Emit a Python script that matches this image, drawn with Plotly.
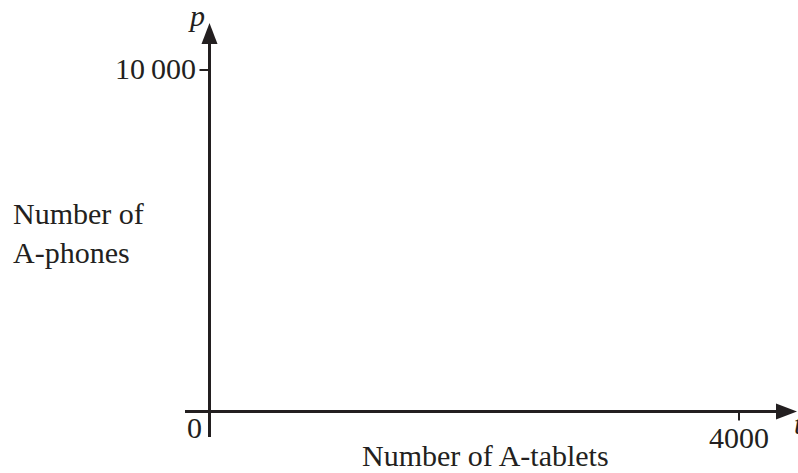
import plotly.graph_objects as go

# ---------------- data ----------------
X_TICKS = [4000]
X_TICK_LABELS = ["4000"]
Y_TICKS = [10000]
Y_TICK_LABELS = ["10\u2009000"]
ORIGIN_LABEL = "0"
X_VAR = "t"
Y_VAR = "p"
X_TITLE = "Number of A-tablets"
Y_TITLE = "Number of<br>A-phones"

# visible extent of the drawn axes (data units)
X_AXIS_START = -185
X_AXIS_TIP = 4438
Y_AXIS_START = -747
Y_AXIS_TIP = 11376

# ---------------- layout ----------------
W, H = 798, 473
X_RANGE = [-1582.6, 4445.5]
Y_RANGE = [-1801.0, 12050.0]

INK = "#231f20"
FONT = "Liberation Serif"
FS = 30
ARROW_LEN = 21
ARROW_HALF = 8
AXW = 3

fig = go.Figure()

# axis lines (stop at arrow base)
x_px_per_unit = W / (X_RANGE[1] - X_RANGE[0])
y_px_per_unit = H / (Y_RANGE[1] - Y_RANGE[0])
x_base = X_AXIS_TIP - (ARROW_LEN - 2) / x_px_per_unit
y_base = Y_AXIS_TIP - (ARROW_LEN - 2) / y_px_per_unit

fig.add_trace(go.Scatter(x=[X_AXIS_START, x_base], y=[0, 0], mode="lines",
                         line=dict(color=INK, width=AXW), cliponaxis=False,
                         hoverinfo="skip"))
fig.add_trace(go.Scatter(x=[0, 0], y=[Y_AXIS_START, y_base], mode="lines",
                         line=dict(color=INK, width=AXW), cliponaxis=False,
                         hoverinfo="skip"))

shapes = []
# arrowheads (pixel-sized, anchored at the axis tips)
shapes.append(dict(type="path", xref="x", yref="y", xsizemode="pixel", ysizemode="pixel",
                   xanchor=X_AXIS_TIP, yanchor=0,
                   path=f"M0,0 L{-ARROW_LEN},{ARROW_HALF} L{-ARROW_LEN},{-ARROW_HALF} Z",
                   fillcolor=INK, line=dict(width=0)))
shapes.append(dict(type="path", xref="x", yref="y", xsizemode="pixel", ysizemode="pixel",
                   xanchor=0, yanchor=Y_AXIS_TIP,
                   path=f"M0,0 L{-ARROW_HALF},{-ARROW_LEN} L{ARROW_HALF},{-ARROW_LEN} Z",
                   fillcolor=INK, line=dict(width=0)))
# tick marks
for xv in X_TICKS:
    shapes.append(dict(type="line", xref="x", yref="y", ysizemode="pixel", yanchor=0,
                       x0=xv, x1=xv, y0=0, y1=-9, line=dict(color=INK, width=2)))
for yv in Y_TICKS:
    shapes.append(dict(type="line", xref="x", yref="y", xsizemode="pixel", xanchor=0,
                       x0=-10, x1=0, y0=yv, y1=yv, line=dict(color=INK, width=2)))

annotations = []
for xv, lab in zip(X_TICKS, X_TICK_LABELS):
    annotations.append(dict(x=xv, y=0, xref="x", yref="y", text=lab, showarrow=False,
                            xanchor="center", yanchor="middle", yshift=-25.5))
for yv, lab in zip(Y_TICKS, Y_TICK_LABELS):
    annotations.append(dict(x=0, y=yv, xref="x", yref="y", text=lab, showarrow=False,
                            xanchor="right", yanchor="middle", xshift=-11.5, yshift=2))
annotations.append(dict(x=0, y=0, xref="x", yref="y", text=ORIGIN_LABEL, showarrow=False,
                        xanchor="right", yanchor="middle", xshift=-5.5, yshift=-15.5))
annotations.append(dict(x=0, y=Y_AXIS_TIP, xref="x", yref="y", text=f"<i>{Y_VAR}</i>",
                        showarrow=False, xanchor="center", yanchor="middle",
                        xshift=-13.5, yshift=7.5))
annotations.append(dict(x=X_AXIS_TIP, y=0, xref="x", yref="y", text=f"<i>{X_VAR}</i>",
                        showarrow=False, xanchor="left", yanchor="middle",
                        xshift=-5, yshift=-11.5))
annotations.append(dict(x=485.5 / W, y=1 - 455 / H, xref="paper", yref="paper",
                        text=X_TITLE, showarrow=False, xanchor="center", yanchor="middle"))
annotations.append(dict(x=11 / W, y=1 - 233.5 / H, xref="paper", yref="paper",
                        text=Y_TITLE, showarrow=False, xanchor="left", yanchor="middle",
                        align="left"))

fig.update_layout(
    width=W, height=H,
    margin=dict(l=0, r=0, t=0, b=0),
    paper_bgcolor="white", plot_bgcolor="white",
    showlegend=False,
    font=dict(family=FONT, size=FS, color=INK),
    xaxis=dict(range=X_RANGE, visible=False, fixedrange=True),
    yaxis=dict(range=Y_RANGE, visible=False, fixedrange=True),
    shapes=shapes,
    annotations=annotations,
)

fig.write_html("out.html", config={"displayModeBar": False},
               post_script="document.body.style.margin='0';document.body.style.overflow='hidden';")
